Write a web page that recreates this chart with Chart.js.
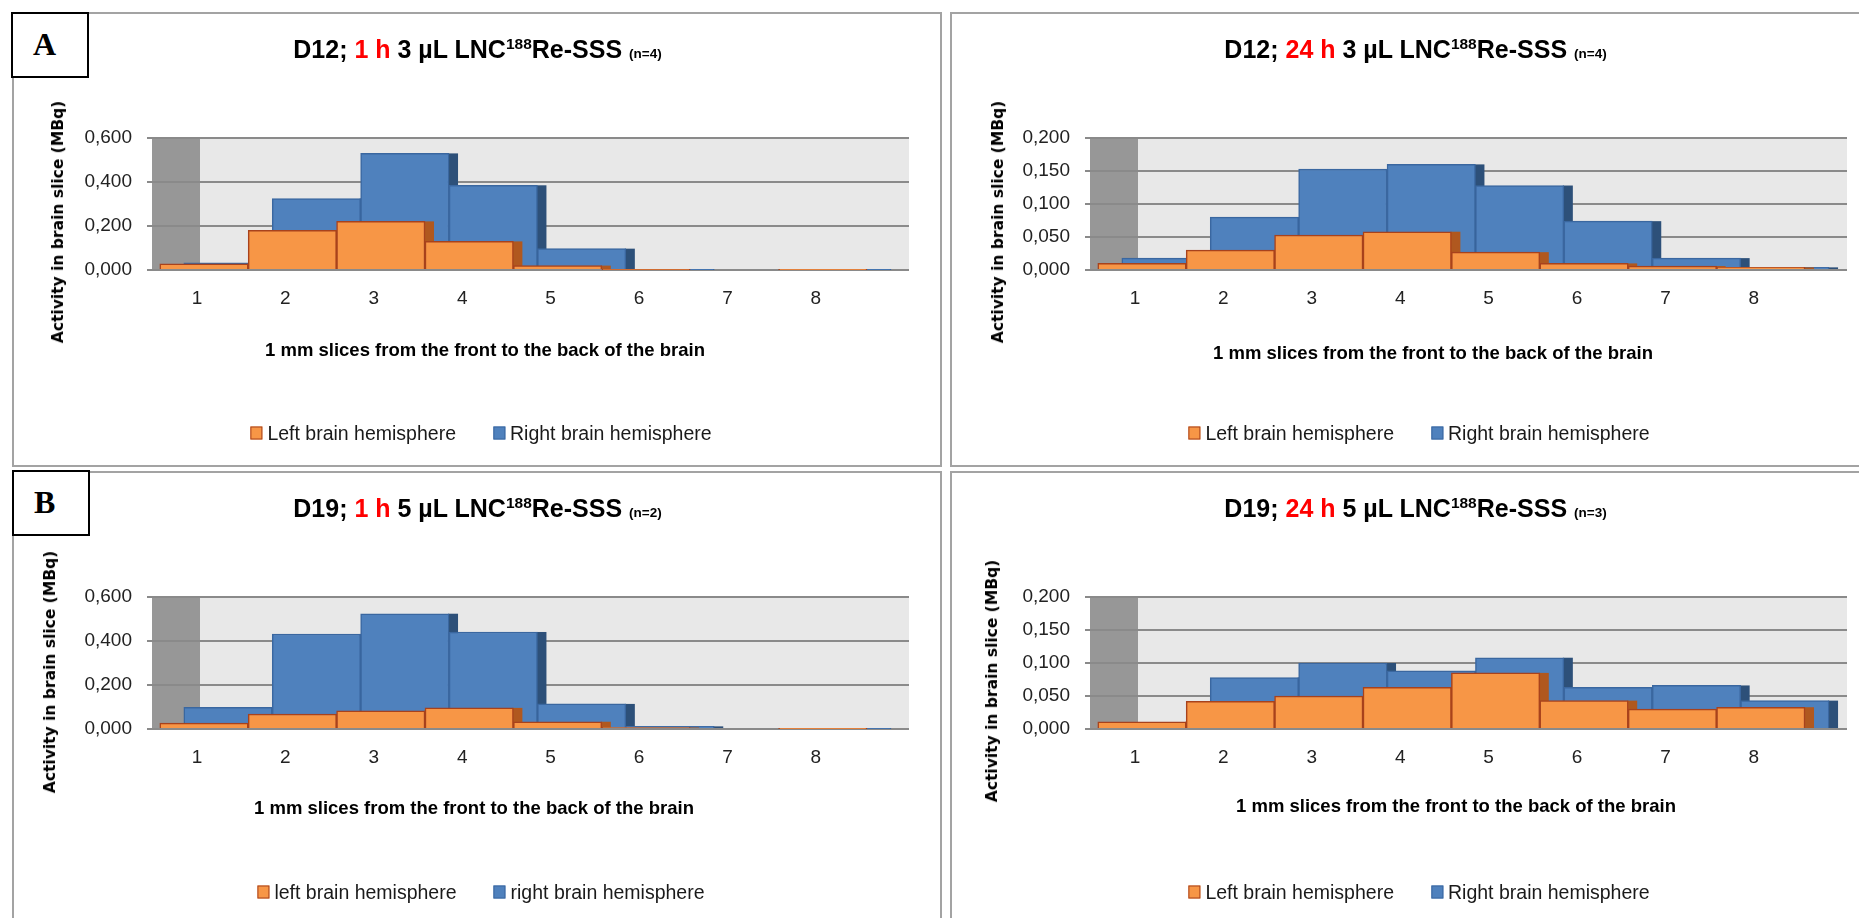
<!DOCTYPE html>
<html>
<head>
<meta charset="utf-8">
<script src="https://cdn.jsdelivr.net/npm/chart.js@4.4.1/dist/chart.umd.min.js"></script>
<style>
  html, body { margin: 0; padding: 0; background: #fff; }
  body { width: 1859px; height: 918px; overflow: hidden; position: relative; font-family: "Liberation Sans", Arial, sans-serif; }
  .panel { position: absolute; width: 930px; border: 2px solid #a3a3a3; box-sizing: border-box; overflow: hidden; background: #fff; }
  .inner { position: absolute; left: -1px; top: -1px; width: 929px; height: 480px; }
  .inner canvas { position: absolute; left: 0; top: 0; }
  .title { position: absolute; left: 0; top: 22px; width: 929px; text-align: center; font-weight: bold; font-size: 25px; line-height: 29px; color: #000; white-space: nowrap; }
  .title .hot { color: #ff0000; }
  .title sup { font-size: 15.5px; vertical-align: 9px; line-height: 0; }
  .title small { font-size: 13.5px; }
  .ytitle { position: absolute; transform: translate(-50%, -50%) rotate(-90deg); font: bold 15.5px "DejaVu Sans", sans-serif; white-space: nowrap; color: #000; }
  .xtitle { position: absolute; transform: translate(-50%, -50%); font: bold 18.5px "Liberation Sans", sans-serif; white-space: nowrap; color: #000; }
  .legend { position: absolute; left: 468px; top: 420px; transform: translate(-50%, -50%); display: flex; align-items: center; white-space: nowrap; font-size: 19.5px; color: #1a1a1a; }
  .legend .item { display: flex; align-items: center; }
  .legend .item + .item { margin-left: 37px; }
  .legend .key { width: 12px; height: 13px; box-sizing: border-box; border: 1.5px solid; margin-right: 5px; }
  .tag { position: absolute; width: 78px; height: 66px; box-sizing: border-box; border: 2px solid #000; background: #fff; font: bold 32px "Liberation Serif", serif; line-height: 60px; padding-left: 20px; z-index: 5; }
</style>
</head>
<body>

<div class="panel" style="left:12px; top:12px; height:455px;">
  <div class="inner">
    <canvas id="c1" width="929" height="480"></canvas>
    <div class="title">D12; <span class="hot">1 h</span> 3 µL LNC<sup>188</sup>Re-SSS <small>(n=4)</small></div>
    <div class="ytitle" style="left:45px; top:209px;">Activity in brain slice (MBq)</div>
    <div class="xtitle" style="left:472px; top:337px;">1 mm slices from the front to the back of the brain</div>
    <div class="legend" id="l1"></div>
  </div>
</div>

<div class="panel" style="left:950px; top:12px; height:455px;">
  <div class="inner">
    <canvas id="c2" width="929" height="480"></canvas>
    <div class="title">D12; <span class="hot">24 h</span> 3 µL LNC<sup>188</sup>Re-SSS <small>(n=4)</small></div>
    <div class="ytitle" style="left:47px; top:209px;">Activity in brain slice (MBq)</div>
    <div class="xtitle" style="left:482px; top:340px;">1 mm slices from the front to the back of the brain</div>
    <div class="legend" id="l2"></div>
  </div>
</div>

<div class="panel" style="left:12px; top:471px; height:470px;">
  <div class="inner">
    <canvas id="c3" width="929" height="480"></canvas>
    <div class="title">D19; <span class="hot">1 h</span> 5 µL LNC<sup>188</sup>Re-SSS <small>(n=2)</small></div>
    <div class="ytitle" style="left:37px; top:200px;">Activity in brain slice (MBq)</div>
    <div class="xtitle" style="left:461px; top:336px;">1 mm slices from the front to the back of the brain</div>
    <div class="legend" id="l3"></div>
  </div>
</div>

<div class="panel" style="left:950px; top:471px; height:470px;">
  <div class="inner">
    <canvas id="c4" width="929" height="480"></canvas>
    <div class="title">D19; <span class="hot">24 h</span> 5 µL LNC<sup>188</sup>Re-SSS <small>(n=3)</small></div>
    <div class="ytitle" style="left:41px; top:209px;">Activity in brain slice (MBq)</div>
    <div class="xtitle" style="left:505px; top:334px;">1 mm slices from the front to the back of the brain</div>
    <div class="legend" id="l4"></div>
  </div>
</div>

<div class="tag" style="left:11px; top:12px;">A</div>
<div class="tag" style="left:12px; top:470px;">B</div>

<script>
// slices and activities (MBq)
const SLICES = [1, 2, 3, 4, 5, 6, 7, 8];

const D12_1H_LEFT = [0.028, 0.180, 0.221, 0.130, 0.020, 0.002, 0, 0.001];
const D12_1H_RIGHT = [0.033, 0.325, 0.530, 0.385, 0.097, 0.002, 0, 0.002];

const D12_24H_LEFT = [0.010, 0.030, 0.053, 0.058, 0.027, 0.010, 0.006, 0.004];
const D12_24H_RIGHT = [0.018, 0.080, 0.153, 0.160, 0.128, 0.074, 0.018, 0.004];

const D19_1H_LEFT = [0.027, 0.068, 0.083, 0.096, 0.033, 0.007, 0, 0.001];
const D19_1H_RIGHT = [0.099, 0.432, 0.524, 0.441, 0.114, 0.012, 0, 0.002];

const D19_24H_LEFT = [0.011, 0.042, 0.050, 0.063, 0.085, 0.043, 0.030, 0.033];
const D19_24H_RIGHT = [0.008, 0.078, 0.100, 0.088, 0.108, 0.063, 0.066, 0.043];

const TICKS_1H = [0, 0.2, 0.4, 0.6];
const TICKS_24H = [0, 0.05, 0.1, 0.15, 0.2];

const LEGEND_UPPER = ["Left brain hemisphere", "Right brain hemisphere"];
const LEGEND_LOWER = ["left brain hemisphere", "right brain hemisphere"];

// look of the old 3-D office chart
const ORANGE = "#f79646";
const ORANGE_EDGE = "#a8421c";
const ORANGE_SIDE = "#b0581f";
const BLUE = "#4f81bd";
const BLUE_EDGE = "#3a67a0";
const BLUE_SIDE = "#2d5079";
const DEPTH = 10;

// x range of the floor, and how far each series sits from the tick
const X_MIN = 0.491;
const X_MAX = 9.054;
const FRONT_SHIFT = 0.079;
const BACK_SHIFT = 0.351;

Chart.defaults.font.family = '"Liberation Sans", Arial, sans-serif';

const backWall = {
  id: "backWall",
  beforeDraw(chart) {
    const { ctx, chartArea: a } = chart;
    ctx.save();
    ctx.fillStyle = "#e8e8e8";
    ctx.fillRect(a.left, a.top, a.width, a.height);
    ctx.fillStyle = "#979797";
    ctx.fillRect(a.left, a.top, 48, a.height);
    ctx.restore();
  },
};

// dark right-hand faces, drawn before the fronts so the next bar covers them
const sideFaces = {
  id: "sideFaces",
  beforeDatasetDraw(chart, args) {
    const ds = chart.data.datasets[args.index];
    const { ctx, chartArea: a } = chart;
    ctx.save();
    ctx.beginPath();
    ctx.rect(a.left, a.top, a.width, a.height);
    ctx.clip();
    ctx.fillStyle = ds.sideColor;
    args.meta.data.forEach((bar) => {
      const p = bar.getProps(["x", "y", "base", "width"], true);
      if (p.base - p.y < 0.5) return;
      ctx.fillRect(p.x + p.width / 2 - 1, p.y, DEPTH, p.base - p.y);
    });
    ctx.restore();
  },
};

function points(values) {
  return SLICES.map((s, i) => ({ x: s, y: values[i] }));
}

function sliceTicks(s) {
  s.ticks = SLICES.map((v) => ({ value: v }));
}

function makeChart(id, left, right, yMax, yTicks, names) {
  return new Chart(document.getElementById(id), {
    type: "bar",
    data: {
      datasets: [
        {
          label: names[0],
          data: points(left),
          xAxisID: "xFront",
          backgroundColor: ORANGE,
          borderColor: ORANGE_EDGE,
          borderWidth: 1.5,
          sideColor: ORANGE_SIDE,
        },
        {
          label: names[1],
          data: points(right),
          xAxisID: "xBack",
          backgroundColor: BLUE,
          borderColor: BLUE_EDGE,
          borderWidth: 1.5,
          sideColor: BLUE_SIDE,
        },
      ],
    },
    options: {
      responsive: false,
      animation: false,
      layout: { padding: { top: 125, left: 40, right: 33, bottom: 0 } },
      datasets: { bar: { grouped: false, barPercentage: 1, categoryPercentage: 1 } },
      scales: {
        x: {
          type: "linear",
          offset: false,
          min: X_MIN,
          max: X_MAX,
          afterBuildTicks: sliceTicks,
          afterFit: (s) => { s.height = 223; },
          grid: { display: false, drawTicks: false },
          border: { display: false },
          ticks: { padding: 17, color: "#222", font: { size: 19 } },
        },
        xFront: {
          type: "linear", display: false, offset: false,
          min: X_MIN - FRONT_SHIFT, max: X_MAX - FRONT_SHIFT, afterBuildTicks: sliceTicks,
        },
        xBack: {
          type: "linear", display: false, offset: false,
          min: X_MIN - BACK_SHIFT, max: X_MAX - BACK_SHIFT, afterBuildTicks: sliceTicks,
        },
        y: {
          min: 0,
          max: yMax,
          afterBuildTicks: (s) => { s.ticks = yTicks.map((v) => ({ value: v })); },
          afterFit: (s) => { s.width = 99; },
          grid: { color: "#8a8a8a", lineWidth: 2, tickLength: 5 },
          border: { display: false },
          ticks: {
            padding: 15,
            color: "#222",
            font: { size: 19 },
            callback: (v) => v.toFixed(3).replace(".", ","),
          },
        },
      },
      plugins: {
        legend: { display: false },
        tooltip: { enabled: false },
      },
    },
    plugins: [backWall, sideFaces],
  });
}

// legend rows built from the chart's own datasets
function fillLegend(chart, id) {
  const box = document.getElementById(id);
  chart.data.datasets.forEach((ds) => {
    const item = document.createElement("span");
    item.className = "item";
    const key = document.createElement("span");
    key.className = "key";
    key.style.background = ds.backgroundColor;
    key.style.borderColor = ds.borderColor;
    const text = document.createElement("span");
    text.textContent = ds.label;
    item.appendChild(key);
    item.appendChild(text);
    box.appendChild(item);
  });
}

fillLegend(makeChart("c1", D12_1H_LEFT, D12_1H_RIGHT, 0.6, TICKS_1H, LEGEND_UPPER), "l1");
fillLegend(makeChart("c2", D12_24H_LEFT, D12_24H_RIGHT, 0.2, TICKS_24H, LEGEND_UPPER), "l2");
fillLegend(makeChart("c3", D19_1H_LEFT, D19_1H_RIGHT, 0.6, TICKS_1H, LEGEND_LOWER), "l3");
fillLegend(makeChart("c4", D19_24H_LEFT, D19_24H_RIGHT, 0.2, TICKS_24H, LEGEND_UPPER), "l4");
</script>
</body>
</html>
